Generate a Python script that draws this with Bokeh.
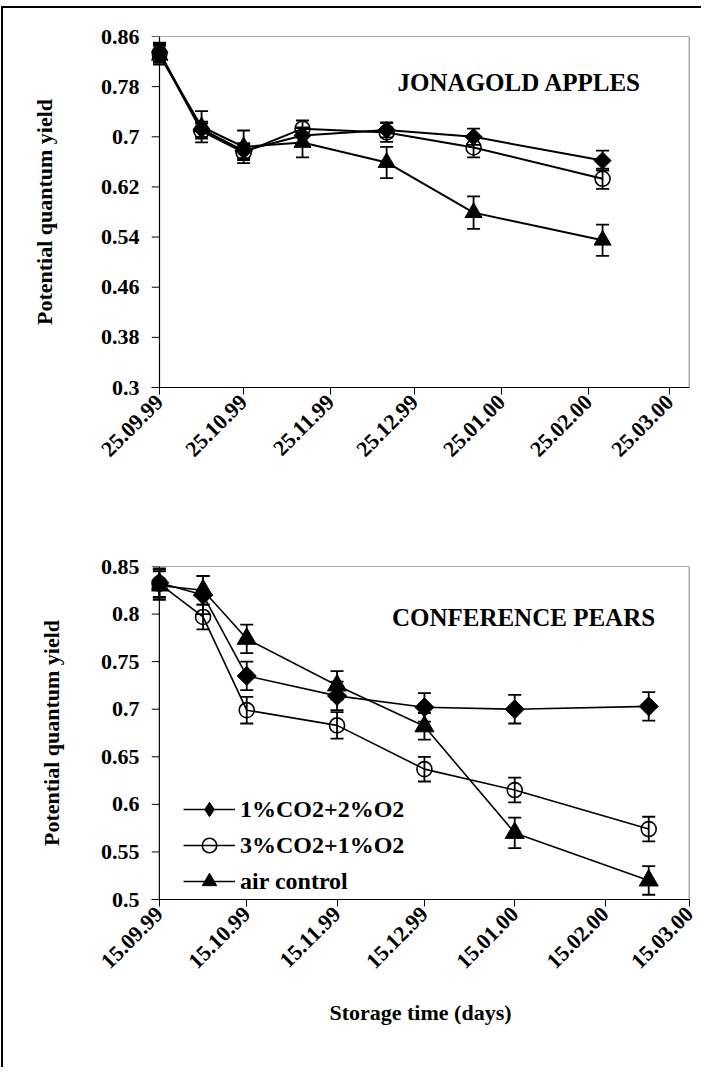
import math
import calendar
from datetime import datetime

from bokeh.plotting import figure
from bokeh.models import (ColumnDataSource, Whisker, TeeHead, FixedTicker,
                          DatetimeTickFormatter, NumeralTickFormatter, Range1d,
                          Label, Legend, LegendItem, Span)
from bokeh.layouts import column
from bokeh.embed import file_html
from bokeh.resources import INLINE

FONT = "Liberation Serif"

# ---------------- data ----------------
series_labels = ["1%CO2+2%O2", "3%CO2+1%O2", "air control"]

# Jonagold apples
apple_dates = ["25.09.99", "10.10.99", "25.10.99", "15.11.99", "15.12.99", "15.01.00", "01.03.00"]
apple_co2_1 = [0.835, 0.712, 0.678, 0.702, 0.711, 0.700, 0.662]
apple_co2_1_err = [0.015, 0.012, 0.012, 0.012, 0.012, 0.013, 0.016]
apple_co2_3 = [0.833, 0.709, 0.675, 0.713, 0.707, 0.683, 0.633]
apple_co2_3_err = [0.015, 0.012, 0.012, 0.013, 0.015, 0.016, 0.016]
apple_air = [0.830, 0.716, 0.684, 0.691, 0.659, 0.579, 0.535]
apple_air_err = [0.015, 0.025, 0.026, 0.024, 0.025, 0.026, 0.025]
apple_x_ticks = ["25.09.99", "25.10.99", "25.11.99", "25.12.99", "25.01.00", "25.02.00", "25.03.00"]
apple_x_end = "01.04.00"
apple_y_ticks = [0.3, 0.38, 0.46, 0.54, 0.62, 0.7, 0.78, 0.86]

# Conference pears
pear_dates = ["15.09.99", "30.09.99", "15.10.99", "15.11.99", "15.12.99", "15.01.00", "01.03.00"]
pear_co2_1 = [0.833, 0.820, 0.735, 0.714, 0.702, 0.700, 0.703]
pear_co2_1_err = [0.015, 0.020, 0.015, 0.015, 0.015, 0.015, 0.015]
pear_co2_3 = [0.832, 0.797, 0.699, 0.683, 0.637, 0.615, 0.574]
pear_co2_3_err = [0.015, 0.013, 0.014, 0.014, 0.013, 0.013, 0.013]
pear_air = [0.830, 0.825, 0.774, 0.725, 0.682, 0.570, 0.520]
pear_air_err = [0.015, 0.015, 0.015, 0.015, 0.014, 0.016, 0.015]
pear_x_ticks = ["15.09.99", "15.10.99", "15.11.99", "15.12.99", "15.01.00", "15.02.00", "15.03.00"]
pear_x_end = "15.03.00"
pear_y_ticks = [0.5, 0.55, 0.6, 0.65, 0.7, 0.75, 0.8, 0.85]


def ms(s):
    d = datetime.strptime(s, "%d.%m.%y")
    return calendar.timegm(d.timetuple()) * 1000.0


DATE_FMT = "%d.%m.%y"
PAD = 8    # px of frame left of the y axis, so the first markers are not clipped
TICK = 8   # y tick length (drawn inside that pad)


def make_chart(dates, vals, errs, xticks, x_end, yticks, title, title_pos,
               width, height, borders, frame_w, msize, lw, ylabel_standoff,
               xlabel=None, legend=False):
    left, right, top, bottom = borders
    t0, t1 = ms(xticks[0]), ms(x_end)
    mpp = (t1 - t0) / (frame_w - PAD)          # ms per pixel
    x_start = t0 - PAD * mpp
    y_lo, y_hi = yticks[0], yticks[-1]
    p = figure(width=width, height=height, x_axis_type="datetime",
               output_backend="svg", toolbar_location=None,
               x_range=Range1d(x_start, t1),
               y_range=Range1d(y_lo, y_hi),
               min_border_left=left, min_border_right=right,
               min_border_top=top, min_border_bottom=bottom)
    p.grid.visible = False
    p.outline_line_color = None
    p.background_fill_color = "white"
    p.border_fill_color = "white"

    # frame lines: y axis at first date, top and right borders
    p.add_layout(Span(location=t0, dimension="height", line_color="black", line_width=1.2))
    p.add_layout(Span(location=y_hi, dimension="width", line_color="#555555", line_width=1.2))
    p.add_layout(Span(location=t1, dimension="height", line_color="#555555", line_width=1.5))
    p.segment(x0=[t0 - TICK * mpp] * len(yticks), y0=yticks,
              x1=[t0] * len(yticks), y1=yticks, line_color="black", line_width=1)

    xs = [ms(d) for d in dates]
    styles = [
        dict(marker="square", angle=math.pi / 4, fill_color="black", size=msize[0], line_width=1),
        dict(marker="circle", angle=0.0, fill_color=None, size=msize[1], line_width=1.6),
        dict(marker="triangle", angle=0.0, fill_color="black", size=msize[2], line_width=1),
    ]
    items = []
    for i in range(3):
        src = ColumnDataSource(dict(
            x=xs, y=vals[i],
            upper=[v + e for v, e in zip(vals[i], errs[i])],
            lower=[v - e for v, e in zip(vals[i], errs[i])]))
        lr = p.line("x", "y", source=src, line_color="black", line_width=lw)
        w = Whisker(source=src, base="x", upper="upper", lower="lower",
                    dimension="height", line_color="black", line_width=1.8,
                    upper_head=TeeHead(size=13, line_color="black", line_width=1.8),
                    lower_head=TeeHead(size=13, line_color="black", line_width=1.8),
                    level="glyph")
        p.add_layout(w)
        st = styles[i]
        sr = p.scatter("x", "y", source=src, marker=st["marker"], angle=st["angle"],
                       size=st["size"], fill_color=st["fill_color"],
                       line_color="black", line_width=st["line_width"])
        if i == 0:
            # legend-only diamond (legend glyphs ignore the marker angle)
            lg_r = p.scatter("x", "y", source=src, marker="diamond", size=msize[0],
                             fill_color="black", line_color="black", visible=False)
            items.append(LegendItem(label=series_labels[i], renderers=[lr, lg_r]))
        else:
            items.append(LegendItem(label=series_labels[i], renderers=[lr, sr]))

    # axes
    p.xaxis.ticker = FixedTicker(ticks=[ms(t) for t in xticks])
    p.xaxis.formatter = DatetimeTickFormatter(
        microseconds=DATE_FMT, milliseconds=DATE_FMT, seconds=DATE_FMT,
        minsec=DATE_FMT, minutes=DATE_FMT, hourmin=DATE_FMT, hours=DATE_FMT,
        days=DATE_FMT, months=DATE_FMT, years=DATE_FMT)
    p.xaxis.major_label_orientation = math.pi / 4
    p.yaxis.ticker = FixedTicker(ticks=yticks)
    p.yaxis.formatter = NumeralTickFormatter(format="0.[00]")
    for ax in (p.xaxis[0], p.yaxis[0]):
        ax.major_label_text_font = FONT
        ax.major_label_text_font_style = "bold"
        ax.major_label_text_font_size = "22px"
        ax.major_label_text_color = "black"
        ax.major_tick_out = 7
        ax.major_tick_in = 0
        ax.minor_tick_out = 0
        ax.minor_tick_in = 0
        ax.axis_line_color = "black"
        ax.major_tick_line_color = "black"
    p.yaxis.axis_line_color = None
    p.yaxis.major_tick_line_color = None
    p.yaxis.major_tick_out = 0
    p.xaxis.major_label_standoff = 4
    p.yaxis.major_label_standoff = 12
    p.yaxis.axis_label = "Potential quantum yield"
    p.yaxis.axis_label_text_font = FONT
    p.yaxis.axis_label_text_font_style = "bold"
    p.yaxis.axis_label_text_font_size = "22px"
    p.yaxis.axis_label_text_color = "black"
    p.yaxis.axis_label_standoff = ylabel_standoff
    if xlabel:
        p.xaxis.axis_label = xlabel
        p.xaxis.axis_label_text_font = FONT
        p.xaxis.axis_label_text_font_style = "bold"
        p.xaxis.axis_label_text_font_size = "22px"
        p.xaxis.axis_label_text_color = "black"
        p.xaxis.axis_label_standoff = 22

    p.add_layout(Label(x=title_pos[0], y=title_pos[1], x_units="screen", y_units="screen",
                       text=title, text_font=FONT, text_font_style="bold",
                       text_font_size="25px", text_align="center", text_baseline="middle",
                       text_color="black"))

    if legend:
        lg = Legend(items=items, location=(PAD + 24, 0), orientation="vertical",
                    glyph_width=52, glyph_height=36, label_height=36, spacing=0,
                    padding=0, margin=0, label_standoff=5,
                    label_text_font=FONT, label_text_font_style="bold",
                    label_text_font_size="24px", label_text_color="black",
                    background_fill_alpha=0, border_line_alpha=0)
        p.add_layout(lg, "center")
    return p


# top chart: frame 159..697 (x), 44..395 (y); column content origin (11, 16)
p1 = make_chart(apple_dates, [apple_co2_1, apple_co2_3, apple_air],
                [apple_co2_1_err, apple_co2_3_err, apple_air_err],
                apple_x_ticks, apple_x_end, apple_y_ticks, "JONAGOLD APPLES", (368, 305),
                width=698, height=512, borders=(148, 12, 28, 133), frame_w=538,
                msize=(12, 15, 17), lw=2, ylabel_standoff=41)

# bottom chart: frame 152..700 (x), 574..907 (y)
p2 = make_chart(pear_dates, [pear_co2_1, pear_co2_3, pear_air],
                [pear_co2_1_err, pear_co2_3_err, pear_air_err],
                pear_x_ticks, pear_x_end, pear_y_ticks, "CONFERENCE PEARS", (372, 282),
                width=698, height=547, borders=(141, 9, 46, 168), frame_w=548,
                msize=(13.5, 15, 19), lw=1.6, ylabel_standoff=34,
                xlabel="Storage time (days)", legend=True)

layout = column(p1, p2, spacing=0,
                styles={"border-left": "2px solid black", "border-top": "2px solid black",
                        "margin-left": "1px", "margin-top": "6px"})

open("out.html", "w").write(file_html(layout, INLINE))
